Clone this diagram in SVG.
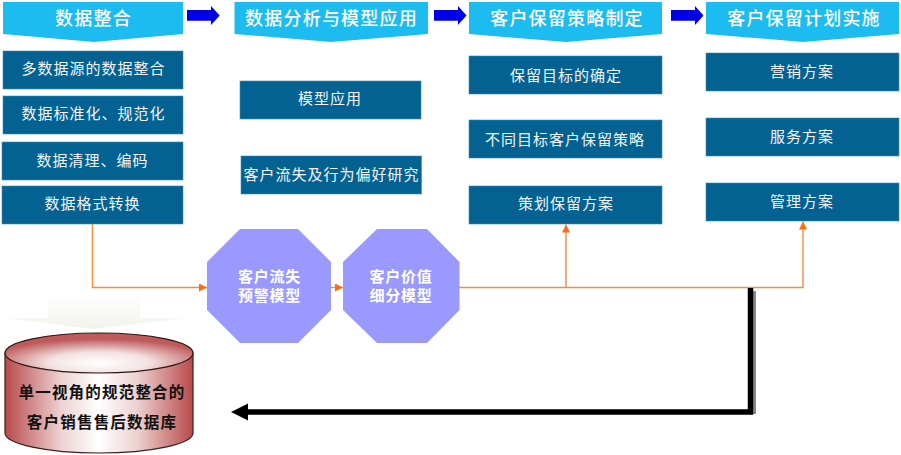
<svg xmlns="http://www.w3.org/2000/svg" width="901" height="455" viewBox="0 0 901 455">
<style>
text{font-family:"Noto Sans CJK SC","Noto Sans",sans-serif;text-anchor:middle;dominant-baseline:central}
.hd{fill:#1cbcf0}
.hdt{fill:#fff;font-size:18px;letter-spacing:1.2px;font-weight:500}
.bx{fill:#046293;stroke:#3f8db5;stroke-width:.6}
.bt{fill:#f2f6f9;font-size:15px;letter-spacing:1px}
.oc{fill:#9999ff}
.ot{fill:#fff;font-size:15px;letter-spacing:.8px;font-weight:700}
.ar{fill:#0000e6}
.or{fill:none;stroke:#f78a3c;stroke-width:1.4}
.dt{fill:#111;font-size:15.5px;letter-spacing:1.2px;font-weight:700}
</style>
<defs>
<marker id="oa" viewBox="0 0 8 8" refX="8" refY="4" markerWidth="8" markerHeight="8" markerUnits="userSpaceOnUse" orient="auto"><path d="M0 0L8 4L0 8Z" fill="#ff6a13"/></marker>
<linearGradient id="side" x1="0" x2="1" y1="0" y2="0"><stop offset="0" stop-color="#b84a4a"/><stop offset=".3" stop-color="#eed2d2"/><stop offset=".5" stop-color="#fff"/><stop offset=".7" stop-color="#eed2d2"/><stop offset="1" stop-color="#b84a4a"/></linearGradient>
<radialGradient id="top" cx=".5" cy=".75" r=".6"><stop offset="0" stop-color="#fff"/><stop offset=".45" stop-color="#f3e2e2"/><stop offset="1" stop-color="#bf5a5a"/></radialGradient>
<linearGradient id="fade" x1="0" x2="0" y1="0" y2="1"><stop offset="0" stop-color="#fff"/><stop offset="1" stop-color="#f2f3ec"/></linearGradient>
</defs>

<g id="connectors">
<path class="or" d="M92.500 224V287.500H207" marker-end="url(#oa)"/>
<path class="or" d="M331 287.500H343" marker-end="url(#oa)"/>
<path class="or" d="M459 287.500H803V221.500" marker-end="url(#oa)"/>
<path class="or" d="M566 287.500V224.500" marker-end="url(#oa)"/>
<path d="M751 291H756V414H751Z" fill="#8a8a8a"/>
<path d="M750.500 288V412H244" fill="none" stroke="#000" stroke-width="5.500"/>
<path d="M231 412L248 403.500V420.500Z" fill="#000"/>
</g>

<g id="arrow-1"><path class="ar" d="M187 10H211V6L219.700 15.500L211 25V20.700H187Z"/></g>
<g id="arrow-2"><path class="ar" d="M434 10H458V6L466.500 15.500L458 25V20.700H434Z"/></g>
<g id="arrow-3"><path class="ar" d="M671 10H695V6L703.500 15.500L695 25V20.700H671Z"/></g>

<g id="header-1"><path class="hd" d="M3 2H183V34L94 42L3 34Z"/><text class="hdt" x="93.500" y="17">数据整合</text></g>
<g id="header-2"><path class="hd" d="M234.500 2H428V34L331 42L234.500 34Z"/><text class="hdt" x="331.500" y="17">数据分析与模型应用</text></g>
<g id="header-3"><path class="hd" d="M469 2H662V34L566 42L469 34Z"/><text class="hdt" x="567" y="17">客户保留策略制定</text></g>
<g id="header-4"><path class="hd" d="M706 2H899V34L803 42L706 34Z"/><text class="hdt" x="804" y="17">客户保留计划实施</text></g>

<g id="box-1-1"><rect class="bx" x="3" y="51" width="180" height="38"/><text class="bt" x="93.500" y="67.500">多数据源的数据整合</text></g>
<g id="box-1-2"><rect class="bx" x="3" y="96" width="180" height="38"/><text class="bt" x="93.500" y="112.500">数据标准化、规范化</text></g>
<g id="box-1-3"><rect class="bx" x="2" y="142" width="181" height="38"/><text class="bt" x="92.500" y="159">数据清理、编码</text></g>
<g id="box-1-4"><rect class="bx" x="2" y="186" width="181" height="38"/><text class="bt" x="92.500" y="202.500">数据格式转换</text></g>

<g id="box-2-1"><rect class="bx" x="240" y="81" width="181" height="38"/><text class="bt" x="330" y="97.500">模型应用</text></g>
<g id="box-2-2"><rect class="bx" x="241" y="156" width="180.500" height="38"/><text class="bt" x="331.500" y="173">客户流失及行为偏好研究</text></g>

<g id="box-3-1"><rect class="bx" x="469" y="56" width="193" height="38"/><text class="bt" x="566" y="74">保留目标的确定</text></g>
<g id="box-3-2"><rect class="bx" x="469" y="120" width="193" height="38"/><text class="bt" x="565" y="138">不同目标客户保留策略</text></g>
<g id="box-3-3"><rect class="bx" x="469" y="186" width="193" height="38"/><text class="bt" x="566" y="202.500">策划保留方案</text></g>

<g id="box-4-1"><rect class="bx" x="706" y="53" width="193" height="38"/><text class="bt" x="802" y="70">营销方案</text></g>
<g id="box-4-2"><rect class="bx" x="706" y="118" width="193" height="38"/><text class="bt" x="802" y="135">服务方案</text></g>
<g id="box-4-3"><rect class="bx" x="706" y="183" width="193" height="38"/><text class="bt" x="802" y="200.500">管理方案</text></g>

<g id="octagon-1"><path class="oc" d="M240 229H298L331 262V310L298 343H240L207 310V262Z"/><text class="ot" x="269.500" y="275">客户流失</text><text class="ot" x="269.500" y="294">预警模型</text></g>
<g id="octagon-2"><path class="oc" d="M377 229H427L459.500 262V310L427 343H377L343 310V262Z"/><text class="ot" x="401" y="275">客户价值</text><text class="ot" x="401" y="294">细分模型</text></g>

<g id="down-arrow"><path fill="url(#fade)" d="M48 293H140V318H185L94 329L5 318H48Z"/></g>

<g id="database">
<path fill="url(#side)" stroke="#3a1f1f" stroke-width="1.200" d="M5 353V433A94 20 0 0 0 193 433V353Z"/>
<ellipse fill="url(#top)" stroke="#2c1515" stroke-width="1.200" cx="99" cy="353" rx="94" ry="20"/>
<text class="dt" x="102" y="391">单一视角的规范整合的</text>
<text class="dt" x="102" y="421">客户销售售后数据库</text>
</g>
</svg>
